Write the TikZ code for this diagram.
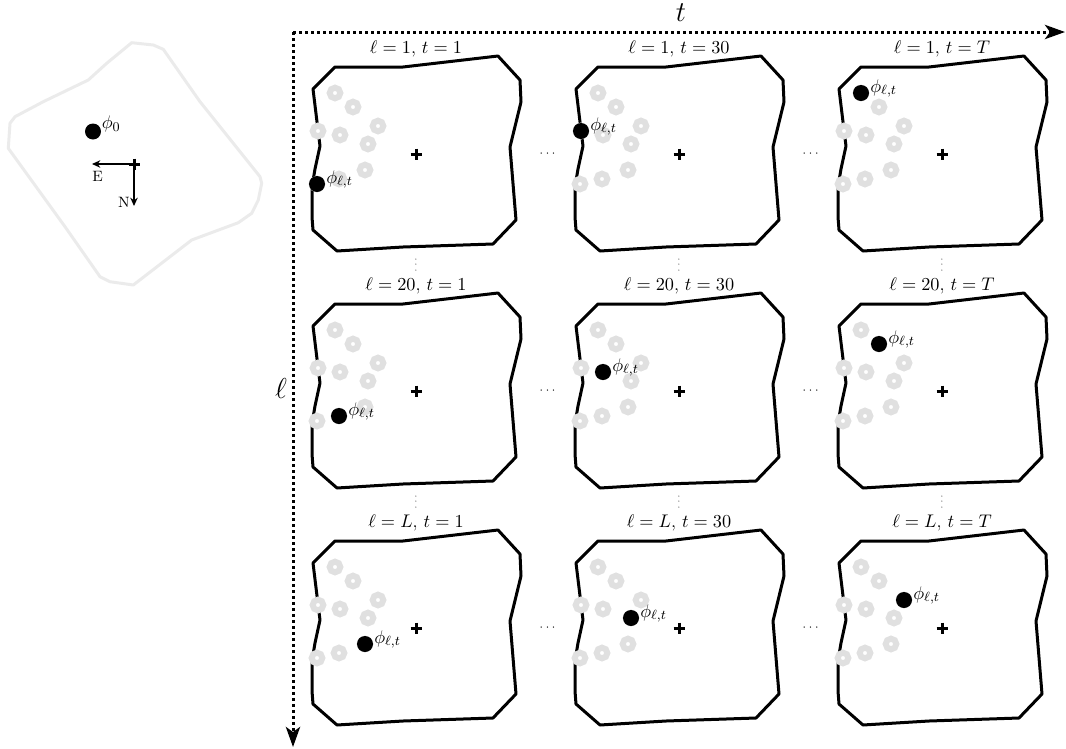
\documentclass[tikz,border=0pt]{standalone}
\usetikzlibrary{arrows.meta}
\tikzset{
  panelline/.style={line width=1.8pt, line join=round},
  ringnode/.style={circle, draw=black!12, fill=white, line width=3.6pt, inner sep=0pt, minimum size=6.4pt},
  dotnode/.style={circle, fill=black, inner sep=0pt, minimum size=9.6pt},
  crossline/.style={line width=1.8pt},
  titlenode/.style={font=\fontsize{11}{13}\selectfont, inner sep=0pt},
  philabel/.style={font=\fontsize{11}{13}\selectfont, inner sep=0pt, anchor=base west},
  axisline/.style={line width=1.8pt, dash pattern=on 1.8pt off 1.8pt, -{Stealth[length=12pt,width=8.5pt,inset=3pt]}},
  axislabel/.style={font=\fontsize{19}{22}\selectfont, inner sep=0pt},
  hdots/.style={font=\scriptsize, inner sep=0pt},
  vdotsnode/.style={font=\tiny, inner sep=0pt, rotate=90},
  mapline/.style={draw=black!8, line width=1.8pt, line join=round},
  compass/.style={line width=0.7pt, -{Stealth[length=5pt,width=4.5pt]}},
  smalllabel/.style={font=\fontsize{9}{10}\selectfont, inner sep=0pt}
}
\newcommand{\mypanel}[7]{%
  \begin{scope}[shift={(#2,#3)}]
    \coordinate (#1) at (0,0);
    \draw[panelline] (-81,-87) -- (-13,-87) -- (82,-98) -- (104,-74) -- (105,-52) -- (94,-7) -- (100,66) -- (77,90) -- (-13,93) -- (-79,97) -- (-103,76) -- (-104,63) -- (-104,33) -- (-101,15) -- (-96,-8) -- (-98,-24) -- (-103,-65) -- cycle;
    \foreach \p [count=\i] in {(-81,-61),(-63,-47),(-38,-28),(-98,-23),(-76,-19),(-48,-10),(-51,16),(-77,25),(-99,30)}
      \node[ringnode] (#1-r\i) at \p {};
    \draw[crossline] (-5.5,0) -- (5.5,0) (0,-5.5) -- (0,5.5);
    \node[dotnode] (#1-d) at (#6,#7) {};
    \node[philabel] (#1-l) at ({#6+9},{#7-1}) {$\phi_{\ell,t}$};
    \node[titlenode] (#1-t) at (0,-105) {$\ell=#4$, $t=#5$};
  \end{scope}}
\begin{document}
\begin{tikzpicture}[x=0.6pt,y=-0.6pt]
\useasboundingbox (0,0) rectangle (1066,748);
% left map
\draw[mapline] (131.7,42.7) -- (153.3,45) -- (163.3,49.3) -- (200,101.7) -- (260,176.7) -- (261.7,183.3) -- (258.3,200) -- (251.7,213.3) -- (238.3,222.7) -- (191.7,240) -- (133.3,285) -- (110,281.7) -- (100,276.7) -- (65,226.7) -- (8.3,148.3) -- (10,123.3) -- (15,116.7) -- (43.3,101.7) -- (88.3,80) -- (106.7,63.3) -- cycle;
\node[dotnode] (p0) at (93,131.5) {};
\node[philabel] (p0l) at (101.5,128.5) {$\phi_0$};
\coordinate (cc) at (134,164);
\coordinate (ce) at (92,164);
\coordinate (cn) at (134,206);
\draw[compass] (cc) -- (ce);
\draw[compass] (cc) -- (cn);
\draw[crossline] (128.5,164) -- (139.5,164) (134,158.5) -- (134,169.5);
\node[smalllabel] (elab) at (97.5,176.5) {E};
\node[smalllabel] (nlab) at (124,202) {N};
% axes
\coordinate (o) at (293,32);
\coordinate (tend) at (1065,32);
\coordinate (lend) at (293,747);
\draw[axisline] (o) -- (tend);
\draw[axisline] (o) -- (lend);
\node[axislabel] (tlab) at (681,13) {$t$};
\node[axislabel] (llab) at (281,388) {$\ell$};
% panels
\mypanel{a11}{416}{154}{1}{1}{-99}{30}
\mypanel{a12}{679}{154}{1}{30}{-98}{-23}
\mypanel{a13}{942}{154}{1}{T}{-81}{-61}
\mypanel{a21}{416}{391}{20}{1}{-77}{25}
\mypanel{a22}{679}{391}{20}{30}{-76}{-19}
\mypanel{a23}{942}{391}{20}{T}{-63}{-47}
\mypanel{a31}{416}{628}{L}{1}{-51}{16}
\mypanel{a32}{679}{628}{L}{30}{-48}{-10}
\mypanel{a33}{942}{628}{L}{T}{-38}{-28}
% dots between panels
\foreach \yy [count=\r] in {154,391,628}{
  \node[hdots] (h\r a) at (547.5,\yy) {$\cdots$};
  \node[hdots] (h\r b) at (810.5,\yy) {$\cdots$};
}
\foreach \xx [count=\c] in {416,679,942}{
  \node[vdotsnode] (v1\c) at (\xx,265) {$\cdots$};
  \node[vdotsnode] (v2\c) at (\xx,502) {$\cdots$};
}
\end{tikzpicture}
\end{document}
